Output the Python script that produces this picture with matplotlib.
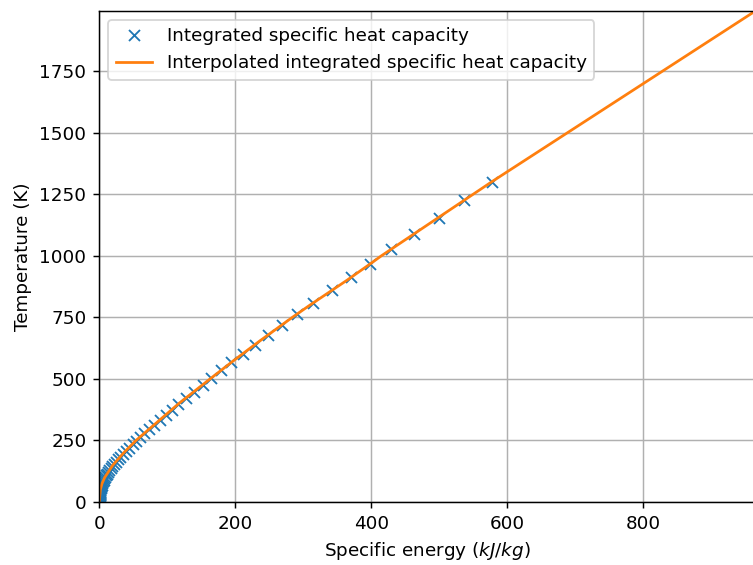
import matplotlib.pyplot as plt
import numpy as np

# tabulated points (temperature in K, integrated specific heat in kJ/kg)
temp_points = [1300, 1225, 1155, 1089, 1026, 967, 912, 859, 810, 763,
               720, 678, 639, 603, 568, 535, 505, 476, 448, 423,
               398, 375, 354, 333, 314, 296, 279, 263, 248, 234,
               220, 208, 196, 184, 174, 164, 154, 146, 137, 129,
               122, 115, 108, 102, 96, 91, 85, 80, 76, 71,
               67, 63, 60, 56, 53, 50, 47, 44, 42, 39,
               37, 35, 33, 31, 29, 28, 26, 25, 23, 22,
               20, 19, 18, 17, 16, 15, 14, 13, 12]
energy_points = [577, 536.5, 499, 463, 429, 398.5, 370, 341.5, 315, 291,
                 269, 248, 229, 211.5, 194, 179, 165, 152, 139, 128,
                 116, 106.5, 98, 89, 81, 73, 66, 60, 53.3, 49,
                 44, 39, 35, 31, 28, 24.5, 21, 19, 17, 15,
                 13, 11, 10, 8.5, 7.5, 6.5, 5.5, 4.7, 4.1, 3.5,
                 3, 2.6, 2.3, 2, 1.7, 1.5, 1.3, 1.1, 1, 0.8,
                 0.7, 0.6, 0.5, 0.45, 0.4, 0.35, 0.3, 0.25, 0.2, 0.18,
                 0.15, 0.12, 0.1, 0.09, 0.08, 0.07, 0.06, 0.05, 0.04]

# interpolated curve
line_energy = [0, 1.5, 4, 8, 20, 36, 54, 75, 96, 117, 140, 163, 197, 210,
               234, 259, 284, 310, 364, 400, 415, 469, 523, 550, 577, 961]
line_temp = [0, 50, 75, 100, 150, 200, 250, 300, 350, 400, 450, 500, 573, 600,
             650, 700, 750, 800, 900, 970, 1000, 1100, 1200, 1250, 1300, 1987]

# original was drawn smaller and scaled up, hence dpi 132
fig = plt.figure(figsize=(753 / 132, 565 / 132), dpi=132)
ax = fig.add_axes([99.3 / 753, 63 / 565, 655.7 / 753, 491.3 / 565])

ax.plot(energy_points, temp_points, 'x', label='Integrated specific heat capacity')
ax.plot(line_energy, line_temp, '-', label='Interpolated integrated specific heat capacity')

ax.set_xlabel('Specific energy ($kJ/kg$)')
ax.set_ylabel('Temperature (K)')
ax.set_xlim(0, 964.3)
ax.set_ylim(0, 1995)
ax.grid(True)
ax.legend(loc='upper left')

fig.savefig('out.png', dpi=132)
